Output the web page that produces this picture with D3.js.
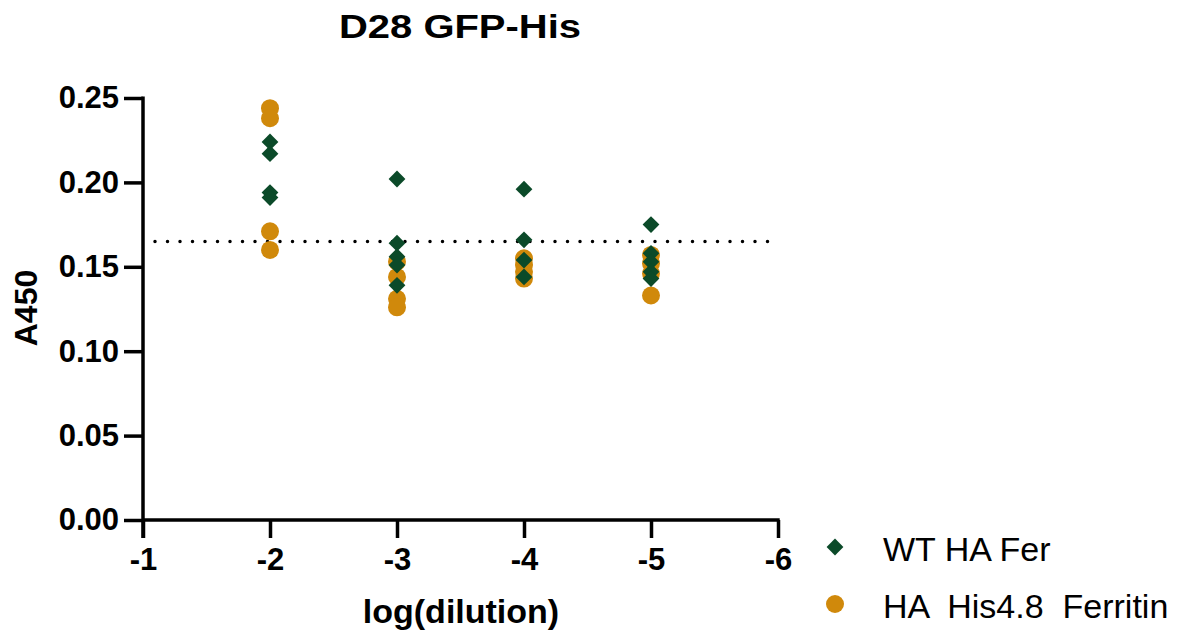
<!DOCTYPE html>
<meta charset="utf-8">
<script src="https://d3js.org/d3.v7.min.js"></script>
<style>
  body { margin: 0; background: #fff; }
  text { font-family: "Liberation Sans", Arial, sans-serif; }
</style>
<div id="wrapper"></div>
<script>
  // Data
  const dilutions = [-2, -3, -4, -5];
  const wtValues = [
    [0.224, 0.217, 0.194, 0.191],
    [0.202, 0.164, 0.156, 0.151, 0.139],
    [0.196, 0.166, 0.154, 0.144],
    [0.175, 0.158, 0.153, 0.147, 0.143]
  ];
  const hisValues = [
    [0.244, 0.238, 0.171, 0.160],
    [0.153, 0.144, 0.131, 0.126],
    [0.155, 0.151, 0.147, 0.143],
    [0.157, 0.152, 0.146, 0.133]
  ];
  const xTicks = [-1, -2, -3, -4, -5, -6];
  const yTicks = [0, 0.05, 0.10, 0.15, 0.20, 0.25];
  const cutoff = 0.165;
  const seriesNames = ["WT HA Fer", "HA  His4.8  Ferritin"];

  const green = "#0b4a29", orange = "#d0890b";

  const svg = d3.select("#wrapper").append("svg")
    .attr("width", 1180).attr("height", 634);

  const x = d3.scaleLinear().domain([-1, -6]).range([143, 778]);
  const y = d3.scaleLinear().domain([0, 0.25]).range([520, 98]);

  // title
  svg.append("text")
    .attr("x", 460).attr("y", 38)
    .attr("text-anchor", "middle")
    .attr("textLength", 242).attr("lengthAdjust", "spacingAndGlyphs")
    .style("font-size", "33px").style("font-weight", "bold")
    .text("D28 GFP-His");

  // y axis
  const yAxis = svg.append("g")
    .attr("transform", "translate(143,0)")
    .call(d3.axisLeft(y).tickValues(yTicks).tickFormat(d3.format(".2f")).tickSize(19).tickPadding(5));
  yAxis.select(".domain").remove();
  yAxis.append("line").attr("x1", 0).attr("x2", 0).attr("y1", 96.5).attr("y2", 538)
    .attr("stroke", "#000").attr("stroke-width", 3.5);
  yAxis.selectAll(".tick line").attr("stroke-width", 3.5);
  yAxis.selectAll(".tick text")
    .style("font-size", "31px").style("font-weight", "bold").attr("fill", "#000");

  // x axis
  const xAxis = svg.append("g")
    .attr("transform", "translate(0,520)")
    .call(d3.axisBottom(x).tickValues(xTicks).tickFormat(d => String(d)).tickSize(18).tickPadding(10));
  xAxis.select(".domain").remove();
  xAxis.append("line").attr("x1", 143).attr("x2", 779.7).attr("y1", 0).attr("y2", 0)
    .attr("stroke", "#000").attr("stroke-width", 3.5);
  xAxis.selectAll(".tick line").attr("stroke-width", 3.5);
  xAxis.selectAll(".tick text")
    .style("font-size", "31px").style("font-weight", "bold").attr("fill", "#000");

  // axis labels
  svg.append("text")
    .attr("x", 461).attr("y", 623)
    .attr("text-anchor", "middle")
    .style("font-size", "34px").style("font-weight", "bold")
    .text("log(dilution)");
  svg.append("text")
    .attr("transform", "translate(37,308) rotate(-90)")
    .attr("text-anchor", "middle")
    .style("font-size", "32px").style("font-weight", "bold")
    .text("A450");

  // cutoff dotted line
  svg.append("line")
    .attr("x1", 155).attr("x2", 770)
    .attr("y1", y(cutoff)).attr("y2", y(cutoff))
    .attr("stroke", "#000").attr("stroke-width", 3.5)
    .attr("stroke-linecap", "round")
    .attr("stroke-dasharray", "0,12.5");

  const flatten = vals => vals.flatMap((arr, i) => arr.map(v => ({ x: dilutions[i], v })));

  // orange circles
  svg.append("g").selectAll("circle")
    .data(flatten(hisValues))
    .join("circle")
    .attr("cx", d => x(d.x)).attr("cy", d => y(d.v))
    .attr("r", 9).attr("fill", orange);

  // green diamonds
  const diamond = d3.symbol().type(d3.symbolDiamond2).size(180);
  svg.append("g").selectAll("path")
    .data(flatten(wtValues))
    .join("path")
    .attr("transform", d => `translate(${x(d.x)},${y(d.v)})`)
    .attr("d", diamond).attr("fill", green);

  // legend
  const legend = svg.append("g");
  legend.append("path")
    .attr("transform", "translate(835,547)")
    .attr("d", diamond).attr("fill", green);
  legend.append("circle")
    .attr("cx", 835).attr("cy", 604).attr("r", 9).attr("fill", orange);
  legend.selectAll("text.lbl")
    .data(seriesNames)
    .join("text")
    .attr("class", "lbl")
    .attr("x", 883).attr("y", (d, i) => 561 + i * 57)
    .style("font-size", "34px")
    .style("white-space", "pre")
    .attr("xml:space", "preserve")
    .text(d => d);
</script>
